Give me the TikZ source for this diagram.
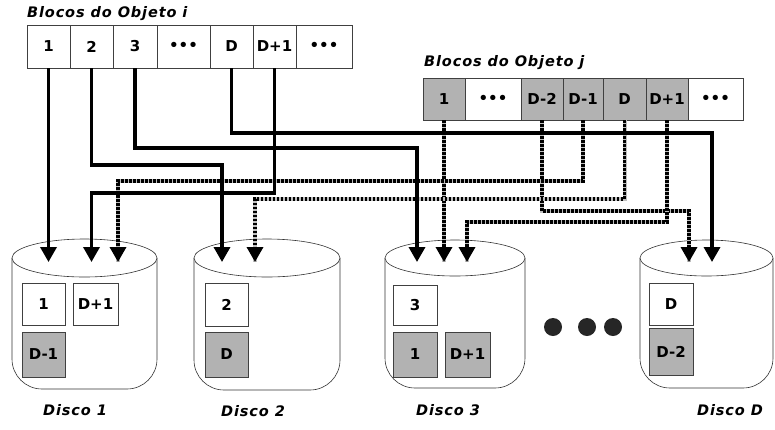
\documentclass[tikz,border=0pt]{standalone}
\usepackage{fontspec}
\setmainfont{DejaVu Sans}
\usetikzlibrary{arrows.meta}
\begin{document}
\begin{tikzpicture}[x=1pt,y=-1pt,
  blk/.style={draw=black!75, line width=0.7pt, minimum height=43pt, inner sep=0pt, font=\fontsize{15}{15}\selectfont\bfseries, anchor=center},
  gblk/.style={blk, fill=black!30},
  ilink/.style={line width=3.4pt, -{Triangle[width=16pt,length=15pt]}},
  jlink/.style={line width=3.4pt, dash pattern=on 2.4pt off 1.6pt, preaction={draw, black!25, line width=4pt, solid, -}, -{Triangle[width=16pt,length=15pt]}},
  disk/.style={line width=0.6pt, draw=black!80},
  lbl/.style={font=\bfseries\itshape\fontsize{14.5}{14.5}\selectfont\addfontfeature{LetterSpace=6}, inner sep=0pt}
]
\useasboundingbox (0,0) rectangle (775,429);

% titles
\node[lbl, anchor=west] (ti) at (27,14) {Blocos do Objeto i};
\node[lbl, anchor=west] (tj) at (424,63) {Blocos do Objeto j};

% object i blocks
\node[blk, minimum width=43pt] (i1) at (48.5,46.5) {1};
\node[blk, minimum width=43pt] (i2) at (91.5,46.5) {2};
\node[blk, minimum width=44pt] (i3) at (135,46.5) {3};
\node[blk, minimum width=53pt] (idots) at (183.5,46.5) {•••};
\node[blk, minimum width=43pt] (iD) at (231.5,46.5) {D};
\node[blk, minimum width=43pt] (iD1) at (274.5,46.5) {D+1};
\node[blk, minimum width=56pt] (idots2) at (324,46.5) {•••};

% object j blocks
\node[gblk, minimum width=42pt, minimum height=42pt] (j1) at (444,99) {1};
\node[blk, minimum width=56pt, minimum height=42pt] (jdots) at (493,99) {•••};
\node[gblk, minimum width=42pt, minimum height=42pt] (jD2) at (542,99) {D-2};
\node[gblk, minimum width=40pt, minimum height=42pt] (jD1) at (583,99) {D-1};
\node[gblk, minimum width=43pt, minimum height=42pt] (jD) at (624.5,99) {D};
\node[gblk, minimum width=42pt, minimum height=42pt] (jDp1) at (667,99) {D+1};
\node[blk, minimum width=55pt, minimum height=42pt] (jdots2) at (715.5,99) {•••};

% disks
\draw[disk, rounded corners=30pt] (12,258) -- (12,389) -- (157,389) -- (157,258);
\draw[disk, fill=white] (84.5,258) ellipse [x radius=72.5pt, y radius=19pt];
\draw[disk, rounded corners=30pt] (194,258) -- (194,390) -- (340,390) -- (340,258);
\draw[disk, fill=white] (267,258) ellipse [x radius=73pt, y radius=19pt];
\draw[disk, rounded corners=30pt] (385,258) -- (385,388) -- (525,388) -- (525,258);
\draw[disk, fill=white] (455,258) ellipse [x radius=70pt, y radius=18pt];
\draw[disk, rounded corners=30pt] (640,258) -- (640,388) -- (773,388) -- (773,258);
\draw[disk, fill=white] (706.5,258) ellipse [x radius=66.5pt, y radius=18pt];

% disk contents
\node[blk, minimum width=43pt, minimum height=42pt] (a1) at (43.5,304) {1};
\node[blk, minimum width=45pt, minimum height=42pt] (a2) at (95.5,304) {D+1};
\node[gblk, minimum width=43pt, minimum height=45pt] (a3) at (43.5,354.5) {D-1};
\node[blk, minimum width=43pt, minimum height=43pt] (b1) at (226.5,304.5) {2};
\node[gblk, minimum width=43pt, minimum height=45pt] (b2) at (226.5,354.5) {D};
\node[blk, minimum width=44pt, minimum height=40pt] (c1) at (415,305) {3};
\node[gblk, minimum width=44pt, minimum height=45pt] (c2) at (415,354.5) {1};
\node[gblk, minimum width=45pt, minimum height=45pt] (c3) at (467.5,354.5) {D+1};
\node[blk, minimum width=44pt, minimum height=42pt] (e1) at (671,304) {D};
\node[gblk, minimum width=44pt, minimum height=47pt] (e2) at (671,351.5) {D-2};

% dots between disks
\fill[black!85] (553,327) circle[radius=9pt];
\fill[black!85] (587,327) circle[radius=9pt];
\fill[black!85] (613,327) circle[radius=9pt];

% disk labels
\node[lbl] (l1) at (75,410) {Disco 1};
\node[lbl] (l2) at (253,411) {Disco 2};
\node[lbl] (l3) at (448,410) {Disco 3};
\node[lbl] (l4) at (730,410) {Disco D};

% helper levels and tips
\coordinate (tipy) at (0,262);
\coordinate (L133) at (0,133);
\coordinate (L148) at (0,148);
\coordinate (L165) at (0,165);
\coordinate (L181) at (0,181);
\coordinate (L193) at (0,193);
\coordinate (L199) at (0,199);
\coordinate (L211) at (0,211);
\coordinate (L222) at (0,222);
\coordinate (d1b) at (91.5,262);
\coordinate (d1c) at (118,262);
\coordinate (d2a) at (222,262);
\coordinate (d2b) at (255,262);
\coordinate (d3a) at (417,262);
\coordinate (d3c) at (467,262);
\coordinate (dDa) at (689,262);
\coordinate (dDb) at (712,262);

% object j links (dotted)
\draw[jlink] (j1.south) -- (j1.south |- tipy);
\draw[jlink] (jD2.south) -- (jD2.south |- L211) -| (dDa);
\draw[jlink] (jD1.south) -- (jD1.south |- L181) -| (d1c);
\draw[jlink] (jD.south) -- (jD.south |- L199) -| (d2b);
\draw[jlink] (jDp1.south) -- (jDp1.south |- L222) -| (d3c);

% object i links (solid)
\draw[ilink] (i1.south) -- (i1.south |- tipy);
\draw[ilink] (i2.south) -- (i2.south |- L165) -| (d2a);
\draw[ilink] (i3.south) -- (i3.south |- L148) -| (d3a);
\draw[ilink] (iD.south) -- (iD.south |- L133) -| (dDb);
\draw[ilink] (iD1.south) -- (iD1.south |- L193) -| (d1b);
\end{tikzpicture}
\end{document}
